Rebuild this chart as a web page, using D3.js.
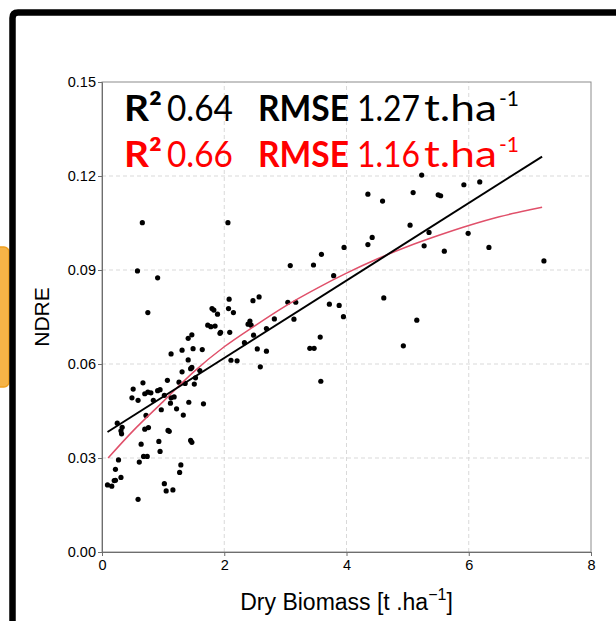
<!DOCTYPE html>
<html>
<head>
<meta charset="utf-8">
<script src="https://cdn.jsdelivr.net/npm/d3@7"></script>
<style>
  body { margin: 0; background: #fff; }
  svg { display: block; }
  .tick text { font-family: "Liberation Sans", Arial, sans-serif; font-size: 14.5px; fill: #000; }
</style>
</head>
<body>
<svg width="616" height="621"></svg>
<script>
// dry biomass (t/ha) and NDRE
const biomass = [
  0.66, 0.58, 0.91, 0.75, 2.06, 2.08, 2.47, 2.57, 1.80, 1.83,
  2.07, 2.15, 1.89, 1.73, 1.78, 1.85, 1.94, 1.93, 2.09, 1.47,
  1.41, 2.42, 2.39, 2.44, 2.48, 2.33, 2.69, 2.82, 2.54, 2.69,
  2.59, 2.11, 2.21, 1.31, 1.49, 1.64, 1.41, 1.47, 1.45, 1.31,
  1.60, 1.53, 1.13, 1.26, 1.36, 1.07, 1.51, 0.67, 0.51, 0.70,
  0.75, 0.80, 0.91, 0.95, 0.49, 0.59, 0.84, 1.02, 1.13, 1.18,
  1.12, 1.42, 1.66, 0.97, 1.22, 1.33, 0.72, 0.25, 0.33, 0.31,
  0.32, 0.70, 0.76, 1.08, 1.10, 0.93, 0.64, 0.95, 1.45, 1.47,
  0.68, 0.74, 0.27, 0.61, 1.29, 1.27, 0.22, 0.20, 0.22, 0.31,
  0.09, 0.16, 1.02, 1.05, 1.16, 0.59, 5.23, 4.35, 4.59, 5.09,
  5.50, 5.54, 5.92, 6.18, 5.04, 5.35, 5.27, 4.42, 4.35, 3.96,
  3.59, 3.46, 3.08, 3.79, 4.61, 3.04, 3.17, 3.72, 3.88, 3.95,
  3.14, 5.15, 3.57, 3.40, 3.47, 4.93, 3.58, 5.60, 5.99, 6.33,
  7.23
];
const ndre = [
  0.1051, 0.0897, 0.0875, 0.0764, 0.1051, 0.0807, 0.0802, 0.0814, 0.0777, 0.0772,
  0.0777, 0.0764, 0.0759, 0.0724, 0.0719, 0.0721, 0.0701, 0.0698, 0.0701, 0.0693,
  0.0682, 0.0737, 0.0727, 0.0724, 0.0692, 0.0668, 0.0713, 0.0744, 0.0648, 0.0641,
  0.0591, 0.0612, 0.0610, 0.0644, 0.0649, 0.0646, 0.0613, 0.0589, 0.0585, 0.0575,
  0.0579, 0.0556, 0.0632, 0.0542, 0.0538, 0.0548, 0.0536, 0.0540, 0.0520, 0.0505,
  0.0510, 0.0508, 0.0515, 0.0518, 0.0492, 0.0484, 0.0484, 0.0500, 0.0492, 0.0495,
  0.0475, 0.0478, 0.0473, 0.0454, 0.0457, 0.0437, 0.0436, 0.0411, 0.0398, 0.0387,
  0.0377, 0.0392, 0.0397, 0.0388, 0.0385, 0.0353, 0.0344, 0.0321, 0.0356, 0.0350,
  0.0305, 0.0305, 0.0294, 0.0287, 0.0278, 0.0254, 0.0264, 0.0228, 0.0229, 0.0238,
  0.0214, 0.0210, 0.0218, 0.0195, 0.0198, 0.0168, 0.1203, 0.1142, 0.1120, 0.1147,
  0.1140, 0.1137, 0.1172, 0.1181, 0.1043, 0.1020, 0.0977, 0.1004, 0.0981, 0.0972,
  0.0950, 0.0916, 0.0914, 0.0882, 0.0811, 0.0797, 0.0797, 0.0791, 0.0787, 0.0751,
  0.0743, 0.0740, 0.0686, 0.0650, 0.0650, 0.0658, 0.0545, 0.0960, 0.1017, 0.0972,
  0.0929
];

// linear fit (black)
const linearX = [0.09, 7.2];
const linearY = [0.0383, 0.1262];

// non-linear fit (red)
const curveX = [0.1, 0.5, 1.0, 1.5, 2.0, 2.5, 3.0, 3.5, 4.0, 4.5, 5.0, 5.5, 6.0, 6.5, 7.0, 7.2];
const curveY = [0.030, 0.0385, 0.048, 0.0575, 0.0655, 0.0722, 0.0785, 0.084, 0.089, 0.0935, 0.0975, 0.101, 0.1042, 0.107, 0.1092, 0.110];

const xTicks = [0, 2, 4, 6, 8];
const yTicks = [0, 0.03, 0.06, 0.09, 0.12, 0.15];

const svg = d3.select("svg");

// slide decoration behind the chart
svg.append("rect")
    .attr("x", -8).attr("y", 247)
    .attr("width", 17).attr("height", 140)
    .attr("rx", 5)
    .attr("fill", "#f7b447")
    .attr("stroke", "#f0a020")
    .attr("stroke-width", 1.5);

svg.append("path")
    .attr("d", "M12.5,621 V18 Q12.5,12.5 18,12.5 H616")
    .attr("fill", "none")
    .attr("stroke", "#000")
    .attr("stroke-width", 6.5);

const x = d3.scaleLinear().domain([0, 8]).range([102, 591]);
const y = d3.scaleLinear().domain([0, 0.15]).range([552, 82]);

// grid
svg.append("g")
    .selectAll("line")
    .data(xTicks.slice(1, -1))
    .enter()
    .append("line")
    .attr("x1", d => x(d)).attr("x2", d => x(d))
    .attr("y1", y(0)).attr("y2", y(0.15))
    .attr("stroke", "#d9d9d9")
    .attr("stroke-dasharray", "4,3");

svg.append("g")
    .selectAll("line")
    .data(yTicks.slice(1, -1))
    .enter()
    .append("line")
    .attr("x1", x(0)).attr("x2", x(8))
    .attr("y1", d => y(d)).attr("y2", d => y(d))
    .attr("stroke", "#d9d9d9")
    .attr("stroke-dasharray", "4,3");

// box
svg.append("rect")
    .attr("x", x(0)).attr("y", y(0.15))
    .attr("width", x(8) - x(0)).attr("height", y(0) - y(0.15))
    .attr("fill", "none")
    .attr("stroke", "#8c8c8c")
    .attr("stroke-width", 1);

const xAxis = svg.append("g")
    .attr("transform", `translate(0,${y(0)})`)
    .call(d3.axisBottom(x).tickValues(xTicks).tickFormat(d3.format("d")).tickSize(4).tickPadding(4));

const yAxis = svg.append("g")
    .attr("transform", `translate(${x(0)},0)`)
    .call(d3.axisLeft(y).tickValues(yTicks).tickFormat(d3.format(".2f")).tickSize(4).tickPadding(2));

[xAxis, yAxis].forEach(a => {
    a.select(".domain").attr("stroke", "#6e6e6e");
    a.selectAll(".tick line").attr("stroke", "#6e6e6e");
});

// points
const pts = biomass.map((b, i) => ({ b: b, n: ndre[i] }));
svg.append("g")
    .selectAll("circle")
    .data(pts)
    .enter()
    .append("circle")
    .attr("cx", d => x(d.b))
    .attr("cy", d => y(d.n))
    .attr("r", 2.6)
    .attr("fill", "#000");

// fits
svg.append("path")
    .datum(d3.zip(curveX, curveY))
    .attr("d", d3.line().x(d => x(d[0])).y(d => y(d[1])).curve(d3.curveMonotoneX))
    .attr("fill", "none")
    .attr("stroke", "#e0506a")
    .attr("stroke-width", 1.5);

svg.append("path")
    .datum(d3.zip(linearX, linearY))
    .attr("d", d3.line().x(d => x(d[0])).y(d => y(d[1])))
    .attr("fill", "none")
    .attr("stroke", "#000")
    .attr("stroke-width", 2);

// axis titles
svg.append("text")
    .attr("transform", `translate(49,${(y(0) + y(0.15)) / 2}) rotate(-90)`)
    .attr("text-anchor", "middle")
    .style("font-family", "Liberation Sans, Arial, sans-serif")
    .style("font-size", "21px")
    .text("NDRE");

const xt = svg.append("text")
    .attr("x", (x(0) + x(8)) / 2)
    .attr("y", 610)
    .attr("text-anchor", "middle")
    .style("font-family", "Liberation Sans, Arial, sans-serif")
    .style("font-size", "23px");
xt.append("tspan").text("Dry Biomass [t .ha");
xt.append("tspan").attr("dy", -10).style("font-size", "16px").text("\u22121");
xt.append("tspan").attr("dy", 10).text("]");

// statistics, each piece squeezed to the width seen in the picture
const stats = [
    { r2: "0.64", rmse: "1.27", color: "#000", base: 121 },
    { r2: "0.66", rmse: "1.16", color: "#ff0000", base: 167 }
];

stats.forEach(s => {
    const g = svg.append("g")
        .attr("fill", s.color)
        .style("font-family", "Lato, 'Open Sans', sans-serif")
        .style("font-size", "36px");
    const piece = (txt, x0, w, bold) => g.append("text")
        .attr("x", x0).attr("y", s.base)
        .attr("textLength", w)
        .attr("lengthAdjust", "spacingAndGlyphs")
        .style("font-weight", bold ? "bold" : "normal")
        .text(txt);
    piece("R\u00b2", 124, 38, true);
    piece(s.r2, 167, 66, false);
    piece("RMSE", 258, 91, true);
    piece(s.rmse, 357, 63, false);
    piece("t.ha", 424, 73, false);
    g.append("text")
        .attr("x", 499).attr("y", s.base - 15)
        .style("font-size", "21px")
        .text("-1");
});
</script>
</body>
</html>
